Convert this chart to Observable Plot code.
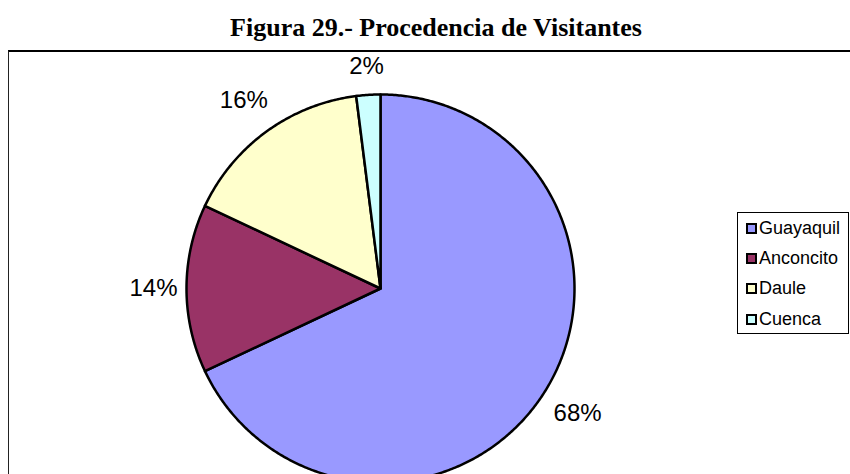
<!DOCTYPE html>
<html>
<head>
<meta charset="utf-8">
<script src="https://cdn.jsdelivr.net/npm/d3@7"></script>
<script src="https://cdn.jsdelivr.net/npm/@observablehq/plot@0.6"></script>
<style>
  html, body { margin: 0; padding: 0; background: #fff; width: 850px; height: 474px; overflow: hidden; }
  #title { position: absolute; left: 23px; top: 13px; width: 826px; text-align: center; line-height: 30px;
           font: bold 26px "Liberation Serif", "Times New Roman", serif; color: #000; white-space: nowrap; }
  #frame { position: absolute; left: 8px; top: 50px; width: 900px; height: 500px;
           border-top: 2px solid #000; border-left: 1px solid #222; }
  #chart { position: absolute; left: 0; top: 0; }
  #legend { position: absolute; left: 737px; top: 212px; width: 112px; height: 122px;
            border: 1px solid #000; background: #fff; box-sizing: border-box;
            font: 18px "Liberation Sans", Arial, sans-serif; color: #000; padding: 0 0 0 8px; }
  .item { height: 30.3px; display: flex; align-items: center; }
  .sw { width: 7px; height: 7px; border: 2px solid #000; margin-right: 2px; }
</style>
</head>
<body>
<div id="title">Figura 29.- Procedencia de Visitantes</div>
<div id="frame"></div>
<div id="chart"></div>
<div id="legend"></div>
<script>
const categories = ["Guayaquil", "Anconcito", "Daule", "Cuenca"];
const values = [68, 14, 16, 2];
const labels = ["68%", "14%", "16%", "2%"];
const colors = ["#9999FF", "#993366", "#FFFFCC", "#CCFFFF"];

const W = 850, H = 474;
const cx = 380, cy = 288, R = 194;   // pie centre and radius in pixels
const FS = 24;                        // label font size

const data = categories.map((c, i) => ({ name: c, value: values[i], label: labels[i] }));
const arcs = d3.pie().sort(null).value(d => d.value).startAngle(0).endAngle(2 * Math.PI)(data);

// slice outlines: centre -> arc -> centre (angles measured clockwise from 12 o'clock)
const pts = [];
arcs.forEach(a => {
  pts.push({ name: a.data.name, x: 0, y: 0 });
  const n = Math.max(2, Math.ceil((a.endAngle - a.startAngle) / (Math.PI / 360)));
  for (let k = 0; k <= n; k++) {
    const t = a.startAngle + (a.endAngle - a.startAngle) * k / n;
    pts.push({ name: a.data.name, x: Math.sin(t), y: Math.cos(t) });
  }
});

// outside labels: the label box sits just outside the rim along the slice's mid angle
const labelPts = arcs.map(a => {
  const m = (a.startAngle + a.endAngle) / 2;
  const s = Math.sin(m), c = Math.cos(m);
  const w = FS * (0.556 * (a.data.label.length - 1) + 0.889);
  const h = 38;
  const dist = (R + 9 + Math.abs(s) * w / 2 + Math.abs(c) * h / 2) / R;
  return { label: a.data.label, x: dist * s, y: dist * c };
});

const chart = Plot.plot({
  width: W, height: H,
  margin: 0,
  style: { background: "transparent", overflow: "visible" },
  x: { domain: [-cx / R, (W - cx) / R], range: [0, W], axis: null },
  y: { domain: [-(H - cy) / R, cy / R], range: [H, 0], axis: null },
  color: { domain: categories, range: colors },
  marks: [
    Plot.line(pts, { x: "x", y: "y", z: "name", fill: "name", stroke: "#000",
                     strokeWidth: 2.5, curve: "linear-closed", strokeLinejoin: "round" }),
    Plot.text(labelPts, { x: "x", y: "y", text: "label", fontSize: FS,
                          fontFamily: "Liberation Sans, Arial, sans-serif", fill: "#000" })
  ]
});
document.getElementById("chart").appendChild(chart);

const legend = d3.select("#legend");
categories.forEach((c, i) => {
  const it = legend.append("div").attr("class", "item");
  it.append("div").attr("class", "sw").style("background", colors[i]);
  it.append("span").text(c);
});
</script>
</body>
</html>
